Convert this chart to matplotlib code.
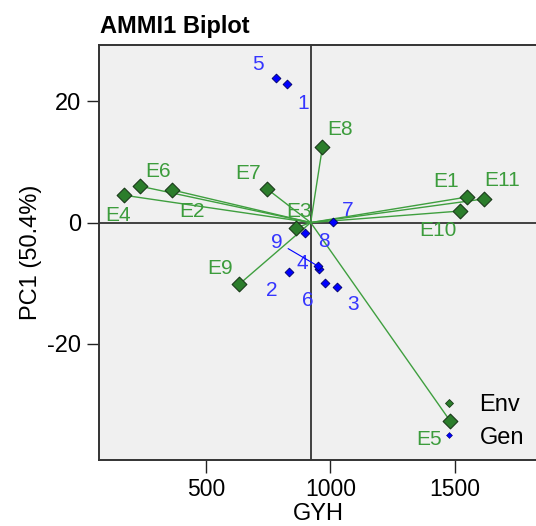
import matplotlib
matplotlib.use('Agg')
import matplotlib.pyplot as plt
from matplotlib.lines import Line2D

plt.rcParams['font.family'] = ['Liberation Sans', 'DejaVu Sans']
plt.rcParams['axes.unicode_minus'] = False

# Dados (AMMI1: rendimento GYH vs PC1)
gyh_mean = 921

env_names = ['E1', 'E2', 'E3', 'E4', 'E5', 'E6', 'E7', 'E8', 'E9', 'E10', 'E11']
env_gyh = [1548, 362, 861, 172, 1481, 235, 744, 968, 633, 1521, 1618]
env_pc1 = [4.2, 5.4, -0.9, 4.5, -32.7, 6.0, 5.6, 12.4, -10.2, 1.9, 3.9]

gen_names = ['1', '2', '3', '4', '5', '6', '7', '8', '9']
gen_gyh = [827, 834, 1028, 956, 780, 979, 1010, 898, 951]
gen_pc1 = [22.8, -8.2, -10.6, -7.6, 23.9, -10.0, 0.1, -1.7, -7.2]

# deslocamento dos rótulos (pixels)
env_off = {'E1': (-21, 16), 'E2': (20, -22), 'E3': (3, 17), 'E4': (-6, -20),
           'E5': (-21, -19), 'E6': (18, 15), 'E7': (-19, 15), 'E8': (18, 18),
           'E9': (-19, 16), 'E10': (-22, -19), 'E11': (18, 18)}
gen_off = {'1': (16, -19), '2': (-17, -18), '3': (16, -18), '4': (-17, 5),
           '5': (-18, 13), '6': (-17, -17), '7': (15, 11), '8': (19, -9),
           '9': (-41, 24)}

env_line = '#3f9f3f'
env_fill = '#2b7d2b'
env_text = '#3c9c3c'
gen_col = '#0000ff'
gen_text = '#3535ff'

fig = plt.figure(figsize=(5.36, 5.26), dpi=100)
ax = fig.add_axes([99.3 / 536, 1 - 459.5 / 526, (538 - 99.3) / 536, (459.5 - 45) / 526])
ax.set_facecolor('#f0f0f0')

ax.axvline(gyh_mean, color='#333333', lw=1.3, zorder=1)
ax.axhline(0, color='#333333', lw=1.3, zorder=1)

for x, y in zip(env_gyh, env_pc1):
    ax.plot([gyh_mean, x], [0, y], color=env_line, lw=1.0, zorder=2)

ax.scatter(env_gyh, env_pc1, marker='D', s=7.5 ** 2, c=env_fill,
           edgecolors='#1a3a1a', linewidths=0.8, zorder=3)
ax.scatter(gen_gyh, gen_pc1, marker='D', s=4.5 ** 2, c=gen_col,
           edgecolors='#000066', linewidths=0.6, zorder=4)

for n, x, y in zip(env_names, env_gyh, env_pc1):
    ax.annotate(n, (x, y), xytext=env_off[n], textcoords='offset pixels',
                ha='center', va='center', fontsize=15, color=env_text, zorder=5)

for n, x, y in zip(gen_names, gen_gyh, gen_pc1):
    kw = {}
    if n == '9':
        kw['arrowprops'] = dict(arrowstyle='-', color=gen_col, lw=0.8,
                                shrinkA=2, shrinkB=0)
    ax.annotate(n, (x, y), xytext=gen_off[n], textcoords='offset pixels',
                ha='center', va='center', fontsize=15, color=gen_text, zorder=5, **kw)

ax.set_xlim(71, 1835)
ax.set_ylim(-39.1, 29.3)
ax.set_xticks([500, 1000, 1500])
ax.set_yticks([-20, 0, 20])
ax.tick_params(direction='out', length=9, width=1, labelsize=16.5, pad=4, colors='#222222')
ax.tick_params(axis='x', labelcolor='black')
ax.tick_params(axis='y', labelcolor='black', labelsize=17)
for sp in ax.spines.values():
    sp.set_color('#333333')
    sp.set_linewidth(1.4)

ax.set_xlabel('GYH', fontsize=17)
ax.set_ylabel('PC1 (50.4%)', fontsize=17)
ax.xaxis.set_label_coords((318.6 - 99.3) / (538 - 99.3), -(503 - 459.5) / 414.5)
ax.yaxis.set_label_coords(-(99.3 - 42) / (538 - 99.3), 0.5)

fig.text(100 / 536, 1 - 32.7 / 526, 'AMMI1 Biplot', fontsize=17,
         fontweight='bold', ha='left', va='baseline')

handles = [Line2D([], [], ls='none', marker='D', ms=4, color=env_fill, mec='#1a3a1a', mew=0.6),
           Line2D([], [], ls='none', marker='D', ms=3, color=gen_col, mec='#000066', mew=0.4)]
ax.legend(handles, ['Env', 'Gen'], loc='upper left', bbox_to_anchor=(437 / 536, 1 - 394 / 526),
          bbox_transform=fig.transFigure, frameon=False, fontsize=17,
          handlelength=1.0, handletextpad=0.8, labelspacing=0.45, borderpad=0,
          borderaxespad=0)

plt.savefig('out.png', dpi=100)
